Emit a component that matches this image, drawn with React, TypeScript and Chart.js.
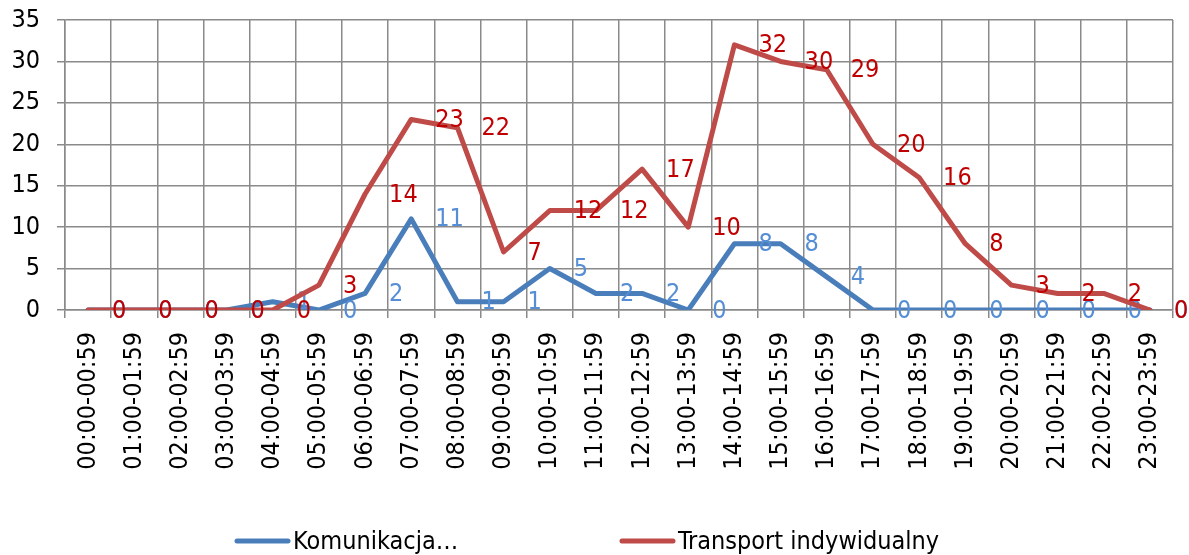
import React, { useEffect, useRef } from 'react';
import { Chart, registerables } from 'chart.js';

Chart.register(...registerables);

const categories = [
  '00:00-00:59', '01:00-01:59', '02:00-02:59', '03:00-03:59', '04:00-04:59', '05:00-05:59',
  '06:00-06:59', '07:00-07:59', '08:00-08:59', '09:00-09:59', '10:00-10:59', '11:00-11:59',
  '12:00-12:59', '13:00-13:59', '14:00-14:59', '15:00-15:59', '16:00-16:59', '17:00-17:59',
  '18:00-18:59', '19:00-19:59', '20:00-20:59', '21:00-21:59', '22:00-22:59', '23:00-23:59',
];
const komunikacja = [0, 0, 0, 0, 1, 0, 2, 11, 1, 1, 5, 2, 2, 0, 8, 8, 4, 0, 0, 0, 0, 0, 0, 0];
const transport = [0, 0, 0, 0, 0, 3, 14, 23, 22, 7, 12, 12, 17, 10, 32, 30, 29, 20, 16, 8, 3, 2, 2, 0];
const seriesNames = ['Komunikacja…', 'Transport indywidualny'];
const yMin = 0;
const yMax = 35;
const yStep = 5;

const FONT = "'DejaVu Sans Condensed', 'DejaVu Sans', sans-serif";
const FS = 25;
const lineColors = ['#4A7EBB', '#BE4B48'];
const labelColors = ['#558ED5', '#C00000'];
const GRID = '#8a8a8a';

const dataLabelPlugin = {
  id: 'dataLabelsRight',
  afterDatasetDraw(chart: any, args: any) {
    const ctx = chart.ctx;
    const ds = chart.data.datasets[args.index];
    ctx.save();
    ctx.font = `${FS}px ${FONT}`;
    ctx.fillStyle = labelColors[args.index];
    ctx.textAlign = 'left';
    ctx.textBaseline = 'middle';
    args.meta.data.forEach((pt: any, i: number) => {
      ctx.fillText(String(ds.data[i]), pt.x + 24, pt.y + 1);
    });
    ctx.restore();
  },
};

const legendPlugin = {
  id: 'bottomLegend',
  afterDraw(chart: any) {
    const ctx = chart.ctx;
    const starts = [235, 620];
    const y = 541;
    ctx.save();
    chart.data.datasets.forEach((ds: any, i: number) => {
      const x0 = starts[i];
      ctx.strokeStyle = lineColors[i];
      ctx.lineWidth = 5;
      ctx.lineCap = 'round';
      ctx.beginPath();
      ctx.moveTo(x0 + 2, y);
      ctx.lineTo(x0 + 53, y);
      ctx.stroke();
      ctx.fillStyle = '#000';
      ctx.font = `${FS}px ${FONT}`;
      ctx.textAlign = 'left';
      ctx.textBaseline = 'middle';
      ctx.fillText(ds.label, x0 + 58, y + 1);
    });
    ctx.restore();
  },
};

export default function App() {
  const ref = useRef<HTMLCanvasElement>(null);
  useEffect(() => {
    if (!ref.current) return;
    const chart = new Chart(ref.current, {
      type: 'line',
      data: {
        labels: categories,
        datasets: [
          {
            label: seriesNames[0],
            data: komunikacja,
            borderColor: lineColors[0],
            backgroundColor: lineColors[0],
            borderWidth: 5,
            pointRadius: 0,
            tension: 0,
            borderJoinStyle: 'round',
            borderCapStyle: 'round',
            order: 1,
          },
          {
            label: seriesNames[1],
            data: transport,
            borderColor: lineColors[1],
            backgroundColor: lineColors[1],
            borderWidth: 5,
            pointRadius: 0,
            tension: 0,
            borderJoinStyle: 'round',
            borderCapStyle: 'round',
            order: 0,
          },
        ],
      },
      options: {
        animation: false,
        responsive: false,
        devicePixelRatio: 1,
        layout: { padding: { left: 0, top: 20, right: 16, bottom: 0 } },
        plugins: { legend: { display: false }, tooltip: { enabled: false } },
        scales: {
          x: {
            offset: true,
            grid: { offset: true, color: GRID, lineWidth: 1.5, tickLength: 8, drawTicks: true },
            border: { color: GRID, width: 1.5 },
            ticks: {
              autoSkip: false,
              minRotation: 90,
              maxRotation: 90,
              padding: 14,
              color: '#000',
              font: { family: FONT, size: FS },
            },
            afterFit: (s: any) => {
              s.height = 245;
              s.paddingLeft = 0;
              s.paddingRight = 0;
            },
          },
          y: {
            min: yMin,
            max: yMax,
            grid: { color: GRID, lineWidth: 1.5, tickLength: 8, drawTicks: true },
            border: { color: GRID, width: 1.5 },
            ticks: {
              stepSize: yStep,
              padding: 17,
              color: '#000',
              font: { family: FONT, size: FS },
            },
            afterFit: (s: any) => {
              s.width = 65;
              s.paddingTop = 0;
              s.paddingBottom = 0;
            },
          },
        },
      },
      plugins: [dataLabelPlugin, legendPlugin],
    } as any);
    return () => chart.destroy();
  }, []);
  return (
    <div style={{ position: 'absolute', left: 0, top: 0, width: 1189, height: 555, background: '#fff' }}>
      <canvas ref={ref} width={1189} height={555} style={{ width: 1189, height: 555, display: 'block' }} />
    </div>
  );
}
